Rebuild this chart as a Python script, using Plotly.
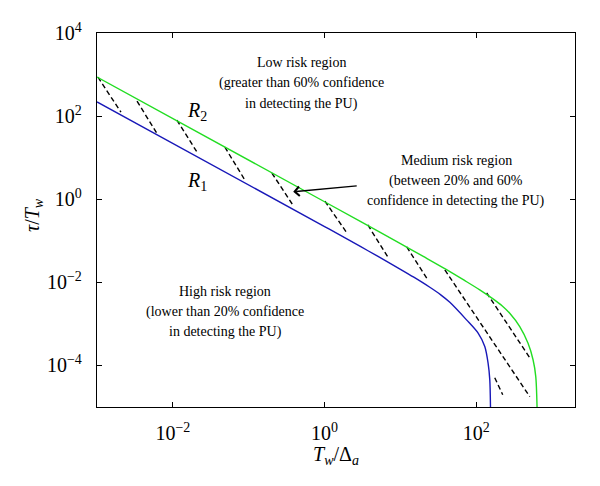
import math
import plotly.graph_objects as go

# ---- data ----
# R2 boundary (green)
green_x = [0.001, 1, 3, 10, 20, 40, 70, 111, 166, 220, 276, 374, 481, 560, 608, 632, 634]
green_y = [870, 0.87, 0.289, 0.0857, 0.0421, 0.0205, 0.0111, 0.0066, 0.0040, 0.0027, 0.0018,
           0.00086, 0.00034, 0.000137, 5.4e-5, 1e-5, 5e-6]

# R1 boundary (blue)
blue_x = [0.001, 1, 3, 5, 10, 15, 24.4, 34, 44.8, 74.3, 105.7, 129.4, 143, 150.6, 153.8, 154.2]
blue_y = [220, 0.22, 0.0719, 0.0426, 0.0206, 0.0133, 0.0076, 0.0050, 0.0033, 0.00125, 0.0006,
          0.000286, 0.000114, 4.5e-5, 1e-5, 5e-6]

# dashed hatching segments (start / end)
hatch_x0 = [0.00103, 0.00337, 0.0113, 0.0485, 0.202, 1.01, 3.72, 12.1, 38.5, 137, 175]
hatch_y0 = [863, 229, 79.8, 17.9, 4.26, 0.90, 0.240, 0.0710, 0.0199, 0.00557, 5.05e-5]
hatch_x1 = [0.00207, 0.00637, 0.0208, 0.0891, 0.382, 1.97, 6.82, 23.0, 507, 507, 223]
hatch_y1 = [124, 34.8, 13.6, 2.89, 0.725, 0.154, 0.0408, 0.01143, 1.77e-5, 1.53e-4, 1.97e-5]

x_tickvals = [1e-2, 1, 1e2]
x_ticktext = ["10<sup>−2</sup>", "10<sup>0</sup>", "10<sup>2</sup>"]
y_tickvals = [1e-4, 1e-2, 1, 1e2, 1e4]
y_ticktext = ["10<sup>−4</sup>", "10<sup>−2</sup>", "10<sup>0</sup>", "10<sup>2</sup>", "10<sup>4</sup>"]

low_lines = ["Low risk region", "(greater than 60% confidence", "in detecting the PU)"]
med_lines = ["Medium risk region", "(between 20% and 60%", "confidence in detecting the PU)"]
high_lines = ["High risk region", "(lower than 20% confidence", "in detecting the PU)"]

FONT = "Liberation Serif"

fig = go.Figure()

hx, hy = [], []
for a, b, c, d in zip(hatch_x0, hatch_y0, hatch_x1, hatch_y1):
    hx += [a, c, None]
    hy += [b, d, None]
fig.add_trace(go.Scatter(x=hx, y=hy, mode="lines",
                         line=dict(color="black", width=1.4, dash="5px,3px"),
                         showlegend=False, hoverinfo="skip"))

fig.add_trace(go.Scatter(x=green_x, y=green_y, mode="lines",
                         line=dict(color="#22dd22", width=1.4, shape="spline", smoothing=0.8),
                         showlegend=False))
fig.add_trace(go.Scatter(x=blue_x, y=blue_y, mode="lines",
                         line=dict(color="#1818b8", width=1.4, shape="spline", smoothing=0.8),
                         showlegend=False))

# page body adds an 8px offset; compensate so the plot box lands at
# x 97..575, y 33..407 in the 600x486 window
OFF = 8
W, H = 592, 478
L, R, T, B = 89, 25, 25, 79
pw, ph = W - L - R, H - T - B


def px2paper(px, py):
    return (px - OFF - L) / pw, (OFF + H - B - py) / ph


ann = []


def add_text(txt, px, py, size=14, **kw):
    x, y = px2paper(px, py)
    ann.append(dict(text=txt, x=x, y=y, xref="paper", yref="paper", showarrow=False,
                    xanchor="center", yanchor="middle",
                    font=dict(family=FONT, size=size, color="black"), **kw))


for t, py in zip(low_lines, [62.7, 83.3, 104]):
    add_text(t, 301, py)
for t, py in zip(med_lines, [160, 181, 200.7]):
    add_text(t, 456, py)
for t, py in zip(high_lines, [291.7, 312.3, 331.7]):
    add_text(t, 225.3, py)

add_text("<i>R</i><sub>2</sub>", 197, 112, size=20)
add_text("<i>R</i><sub>1</sub>", 197, 181, size=20)

add_text("<i>τ</i>/<i>T<sub>w</sub></i>", 34, 215, size=20, textangle=-90)
add_text("<i>T<sub>w</sub></i>/Δ<sub><i>a</i></sub>", 336, 455, size=20)

# arrow pointing into the medium risk band
ann.append(dict(x=math.log10(0.386), y=math.log10(1.51), xref="x", yref="y",
                text="", showarrow=True, ax=65, ay=-6,
                arrowhead=4, arrowsize=1.4, arrowwidth=1.3, arrowcolor="black"))

axis_common = dict(type="log", showgrid=False, zeroline=False, showline=True,
                   linecolor="black", linewidth=1.3, mirror="ticks",
                   ticks="inside", ticklen=5, tickwidth=1.2, tickcolor="black",
                   tickfont=dict(family=FONT, size=20, color="black"),
                   automargin=False)

fig.update_layout(
    width=W, height=H,
    margin=dict(l=L, r=R, t=T, b=B),
    paper_bgcolor="white", plot_bgcolor="white",
    font=dict(family=FONT, color="black"),
    xaxis=dict(range=[-3, math.log10(2000)], tickvals=x_tickvals, ticktext=x_ticktext,
               ticklabelstandoff=8, **axis_common),
    yaxis=dict(range=[-5, 4], tickvals=y_tickvals, ticktext=y_ticktext,
               ticklabelstandoff=10, **axis_common),
    annotations=ann,
    showlegend=False,
)

fig.write_html("out.html")
